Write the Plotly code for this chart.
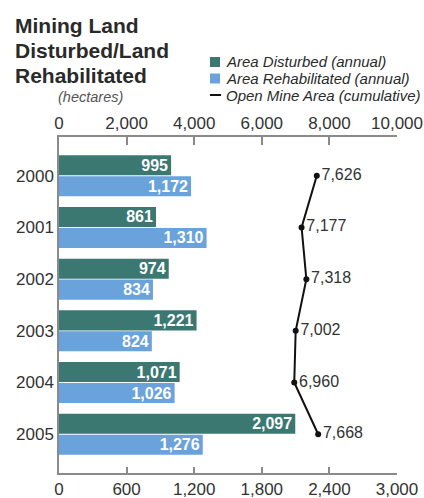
import plotly.graph_objects as go

years = ["2000", "2001", "2002", "2003", "2004", "2005"]
disturbed = [995, 861, 974, 1221, 1071, 2097]
rehabilitated = [1172, 1310, 834, 824, 1026, 1276]
open_mine = [7626, 7177, 7318, 7002, 6960, 7668]

bottom_ticks = [0, 600, 1200, 1800, 2400, 3000]
top_ticks = [0, 2000, 4000, 6000, 8000, 10000]

TEAL = "#3c7872"
BLUE = "#6aa2dc"
FONT = "Liberation Sans, Arial, Helvetica, sans-serif"
TXT = "#333333"
AX = "#8a8a8a"

W, H = 424, 498
L, R, T, B = 59, 27, 137, 25
PW, PH = W - L - R, H - T - B


def px(x):
    return (x - L) / PW


def py(y):
    return (H - B - y) / PH


fig = go.Figure()
fig.add_trace(go.Bar(
    y=years, x=disturbed, orientation="h", name="Area Disturbed (annual)",
    marker=dict(color=TEAL, line=dict(width=0)),
    texttemplate="%{x:,}", textposition="inside", insidetextanchor="end",
    constraintext="none",
    textfont=dict(color="white", size=16, family=FONT, weight="bold"),
    xaxis="x", yaxis="y", showlegend=False,
))
fig.add_trace(go.Bar(
    y=years, x=rehabilitated, orientation="h", name="Area Rehabilitated (annual)",
    marker=dict(color=BLUE, line=dict(width=0)),
    texttemplate="%{x:,}", textposition="inside", insidetextanchor="end",
    constraintext="none",
    textfont=dict(color="white", size=16, family=FONT, weight="bold"),
    xaxis="x", yaxis="y", showlegend=False,
))
fig.add_trace(go.Scatter(
    y=years, x=open_mine, name="Open Mine Area (cumulative)",
    mode="lines+markers+text",
    line=dict(color="#111111", width=2),
    marker=dict(color="#111111", size=6),
    texttemplate="%{x:,}", textposition="middle right",
    textfont=dict(color=TXT, size=16, family=FONT),
    xaxis="x2", yaxis="y", showlegend=False, cliponaxis=False,
))

fig.update_layout(
    width=W, height=H,
    margin=dict(l=L, r=R, t=T, b=B, pad=0, autoexpand=False),
    paper_bgcolor="white", plot_bgcolor="white",
    font=dict(family=FONT, color=TXT, size=15),
    barmode="group", bargap=0.19, bargroupgap=0.04,
    showlegend=False,
    xaxis=dict(
        range=[0, 3000], tickvals=bottom_ticks, ticktext=[f"{v:,}" for v in bottom_ticks],
        side="bottom", showline=True, linecolor=AX, linewidth=1.5,
        ticks="inside", ticklen=6, tickcolor=AX, tickwidth=1.5,
        showgrid=False, zeroline=False, ticklabelstandoff=0, automargin=False,
        tickfont=dict(size=17, color=TXT),
    ),
    xaxis2=dict(
        range=[0, 10000], tickvals=top_ticks, ticktext=[f"{v:,}" for v in top_ticks],
        side="top", overlaying="x", anchor="y", showline=True, linecolor=AX, linewidth=1.5,
        ticks="inside", ticklen=8, tickcolor=AX, tickwidth=1.5,
        showgrid=False, zeroline=False, ticklabelstandoff=-1, automargin=False,
        tickfont=dict(size=17, color=TXT),
    ),
    yaxis=dict(
        type="category", categoryorder="array", categoryarray=years,
        range=[5.75, -0.75], showline=True, linecolor=AX, linewidth=1.5,
        ticks="", showgrid=False, zeroline=False, ticklabelstandoff=0, automargin=False,
        tickfont=dict(size=17, color=TXT),
    ),
)

# title, one annotation per line for tight line spacing
title_lines = ["Mining Land", "Disturbed/Land", "Rehabilitated"]
for i, line in enumerate(title_lines):
    fig.add_annotation(
        text=f"<b>{line}</b>",
        xref="paper", yref="paper", x=px(13), y=py(25 + 25 * i),
        xanchor="left", yanchor="middle", align="left", showarrow=False,
        font=dict(size=21, color="#2a2a2a", family=FONT),
    )

# hectares note
fig.add_annotation(
    text="<i>(hectares)</i>", xref="paper", yref="paper",
    x=px(56), y=py(97), xanchor="left", yanchor="middle", showarrow=False,
    font=dict(size=14.5, color="#555555", family=FONT),
)

# manual legend
legend_items = [
    ("Area Disturbed (annual)", TEAL, "box", 62),
    ("Area Rehabilitated (annual)", BLUE, "box", 78.5),
    ("Open Mine Area (cumulative)", "#111111", "line", 95),
]
for label, color, kind, yc in legend_items:
    if kind == "box":
        fig.add_shape(type="rect", xref="paper", yref="paper",
                      x0=px(210), x1=px(220), y0=py(yc + 5), y1=py(yc - 5),
                      fillcolor=color, line=dict(width=0))
    else:
        fig.add_shape(type="line", xref="paper", yref="paper",
                      x0=px(210), x1=px(221), y0=py(yc), y1=py(yc),
                      line=dict(color=color, width=2))
    fig.add_annotation(
        text=f"<i>{label}</i>", xref="paper", yref="paper",
        x=px(224), y=py(yc), xanchor="left", yanchor="middle", showarrow=False,
        font=dict(size=15, color="#2a2a2a", family=FONT),
    )

fig.write_html(
    "out.html",
    config={"displayModeBar": False},
    post_script="document.body.style.margin='0';document.body.style.overflow='hidden';",
)
